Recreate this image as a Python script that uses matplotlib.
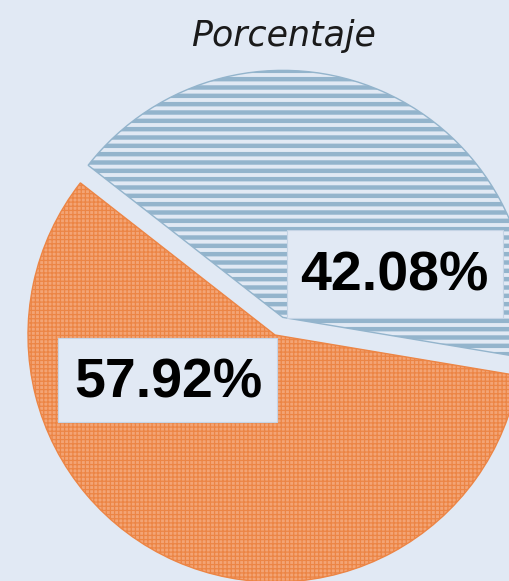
import matplotlib
matplotlib.use("Agg")
import matplotlib.pyplot as plt
from matplotlib.patches import Rectangle

# Data
categories = ["A", "B"]
values = [42.08, 57.92]
labels = ["42.08%", "57.92%"]
title = "Porcentaje"

BG = "#E1E9F4"

fig = plt.figure(figsize=(5.09, 5.81), dpi=100, facecolor=BG)
ax = fig.add_axes([0, 0, 1, 1])
ax.set_facecolor(BG)

R = 247.0
cx, cy = 275.0, 335.0
W, H = 509.0, 581.0

wedges, _ = ax.pie(values, startangle=-9.5, counterclock=True,
                   explode=[0.078, 0], radius=1,
                   wedgeprops=dict(linewidth=1.0))
# blue slice: horizontal stripes
wedges[0].set_facecolor(BG)
wedges[0].set_hatch("--")
wedges[0].set_edgecolor("#93B4CC")
wedges[0].set_hatch_linewidth(3.2)
# orange slice: fine check pattern
wedges[1].set_facecolor("#F3A475")
wedges[1].set_hatch("++++")
wedges[1].set_edgecolor("#EC8545")
wedges[1].set_hatch_linewidth(0.9)

ax.set_xlim(-cx / R, (W - cx) / R)
ax.set_ylim(-(H - cy) / R, cy / R)
ax.set_aspect("equal", adjustable="datalim")
ax.axis("off")

def px(x, y):
    return ((x - cx) / R, (cy - y) / R)

boxes = [(287, 230, 503, 318), (58, 338, 277, 422)]
label_pos = [(394, 276), (168, 383)]
for lab, (x, y), (x0, y0, x1, y1) in zip(labels, label_pos, boxes):
    bx, by = px(x0, y1)
    ax.add_patch(Rectangle((bx, by), (x1 - x0) / R, (y1 - y0) / R,
                           facecolor=BG, edgecolor="#C5D4E5",
                           linewidth=0.8, zorder=3))
    dx, dy = px(x, y)
    ax.text(dx, dy, lab, ha="center", va="center", fontsize=40,
            fontweight="bold", family="Liberation Sans", color="black",
            zorder=4)

fig.text(283 / W, 1 - 36 / H, title, ha="center", va="center",
         fontsize=25, style="italic", family="DejaVu Sans", color="#1A1A1A")

fig.savefig("out.png", dpi=100, facecolor=BG)
